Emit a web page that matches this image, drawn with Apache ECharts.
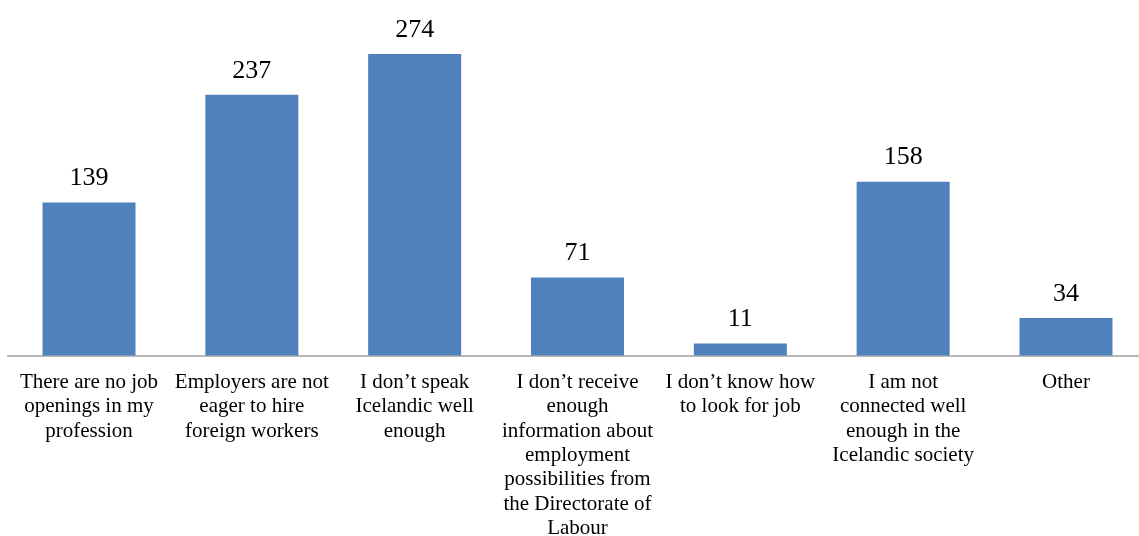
<!DOCTYPE html>
<html><head><meta charset="utf-8">
<script src="https://cdn.jsdelivr.net/npm/echarts@6/dist/echarts.min.js"></script>
<style>html,body{margin:0;padding:0;background:#fff}#c{width:1139px;height:536px}</style>
</head><body><div id="c"></div>
<script>
const categories = [
  "There are no job\nopenings in my\nprofession",
  "Employers are not\neager to hire\nforeign workers",
  "I don\u2019t speak\nIcelandic well\nenough",
  "I don\u2019t receive\nenough\ninformation about\nemployment\npossibilities from\nthe Directorate of\nLabour",
  "I don\u2019t know how\nto look for job",
  "I am not\nconnected well\nenough in the\nIcelandic society",
  "Other"
];
const values = [139, 237, 274, 71, 11, 158, 34];

const chart = echarts.init(document.getElementById('c'));
chart.setOption({
  animation: false,
  grid: { left: 7.6, right: -8.4, top: 25.4, bottom: 180.5, containLabel: false, outerBoundsMode: 'none' },
  xAxis: {
    type: 'category', data: categories,
    axisLine: { lineStyle: { color: '#a0a0a0', width: 1.5 } },
    axisTick: { show: false },
    axisLabel: { interval: 0, margin: 15, fontFamily: 'Liberation Serif', fontSize: 21, lineHeight: 24.3, color: '#000', align: 'center' }
  },
  yAxis: { type: 'value', min: 0, max: 300, show: false, splitLine: { show: false } },
  series: [{
    type: 'bar', data: values, barWidth: 93,
    itemStyle: { color: '#4f81bd' },
    label: { show: true, position: 'top', distance: 11, fontFamily: 'Liberation Serif', fontSize: 26, color: '#000' }
  }]
});
</script></body></html>
